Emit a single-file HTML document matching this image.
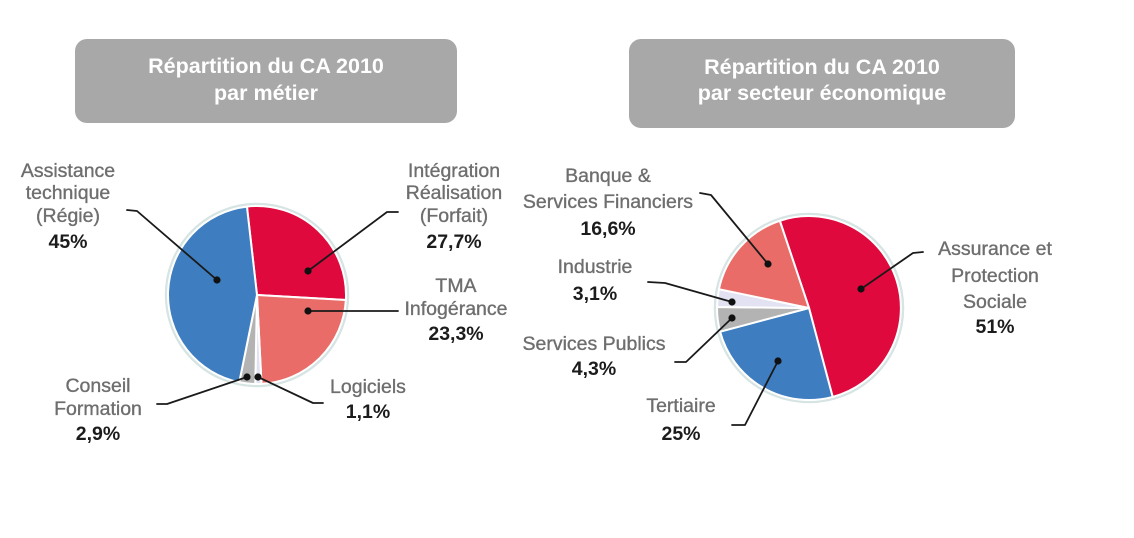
<!DOCTYPE html>
<html>
<head>
<meta charset="utf-8">
<style>
  html, body { margin:0; padding:0; background:#ffffff; }
  body { width:1134px; height:538px; overflow:hidden; }
  svg { display:block; }
  .t { font-family:"Liberation Sans", Arial, sans-serif; font-weight:bold; font-size:21.5px; fill:#ffffff; text-anchor:middle; }
  .l { font-family:"Liberation Sans", Arial, sans-serif; font-size:19.5px; fill:#6e6e6e; stroke:#6e6e6e; stroke-width:0.35px; text-anchor:middle; }
  .p { font-family:"Liberation Sans", Arial, sans-serif; font-weight:bold; font-size:19.5px; fill:#1c1c1c; text-anchor:middle; }
  .ln { fill:none; stroke:#1a1a1a; stroke-width:1.8; stroke-linejoin:round; stroke-linecap:round; }
</style>
</head>
<body>
<svg width="1134" height="538" viewBox="0 0 1134 538" xmlns="http://www.w3.org/2000/svg">
  <!-- Title boxes -->
  <rect x="75" y="39" width="382" height="84" rx="12" ry="12" fill="#a8a8a8"/>
  <text class="t" x="266" y="73">Répartition du CA 2010</text>
  <text class="t" x="266" y="100">par métier</text>

  <rect x="629" y="39" width="386" height="89" rx="12" ry="12" fill="#a8a8a8"/>
  <text class="t" x="822" y="74">Répartition du CA 2010</text>
  <text class="t" x="822" y="100">par secteur économique</text>

  <!-- Left pie -->
  <circle cx="257" cy="295" r="91" fill="none" stroke="#d6e4e3" stroke-width="2.5"/>
  <g stroke="#ffffff" stroke-width="2" stroke-linejoin="round">
    <path d="M257,295 L246.93,206.57 A89,89 0 0,1 345.86,299.97 Z" fill="#e0093d"/>
    <path d="M257,295 L345.86,299.97 A89,89 0 0,1 261.50,383.89 Z" fill="#e96c68"/>
    <path d="M257,295 L261.50,383.89 A89,89 0 0,1 255.29,383.98 Z" fill="#e2e2f2"/>
    <path d="M257,295 L255.29,383.98 A89,89 0 0,1 239.26,382.21 Z" fill="#b3b3b3"/>
    <path d="M257,295 L239.26,382.21 A89,89 0 0,1 246.93,206.57 Z" fill="#3e7dc0"/>
  </g>

  <!-- Left leader lines -->
  <polyline class="ln" points="127,210 137,211 217,280"/>
  <polyline class="ln" points="398,212 387,212 308,271"/>
  <polyline class="ln" points="308,311 398,311"/>
  <polyline class="ln" points="157,404 167,404 247,377"/>
  <polyline class="ln" points="258,377 313,403 323,403"/>
  <g fill="#111111">
    <circle cx="217" cy="280" r="3.6"/>
    <circle cx="308" cy="271" r="3.6"/>
    <circle cx="308" cy="311" r="3.6"/>
    <circle cx="247" cy="377" r="3.6"/>
    <circle cx="258" cy="377" r="3.6"/>
  </g>

  <!-- Left labels -->
  <text class="l" x="68" y="177">Assistance</text>
  <text class="l" x="68" y="199">technique</text>
  <text class="l" x="68" y="222">(Régie)</text>
  <text class="p" x="68" y="248">45%</text>

  <text class="l" x="454" y="177">Intégration</text>
  <text class="l" x="454" y="199">Réalisation</text>
  <text class="l" x="454" y="222">(Forfait)</text>
  <text class="p" x="454" y="248">27,7%</text>

  <text class="l" x="456" y="292">TMA</text>
  <text class="l" x="456" y="315">Infogérance</text>
  <text class="p" x="456" y="340">23,3%</text>

  <text class="l" x="98" y="392">Conseil</text>
  <text class="l" x="98" y="415">Formation</text>
  <text class="p" x="98" y="440">2,9%</text>

  <text class="l" x="368" y="393">Logiciels</text>
  <text class="p" x="368" y="418">1,1%</text>

  <!-- Right pie -->
  <circle cx="809" cy="308" r="94" fill="none" stroke="#d6e4e3" stroke-width="2.5"/>
  <g stroke="#ffffff" stroke-width="2" stroke-linejoin="round">
    <path d="M809,308 L779.81,220.75 A92,92 0 1,1 832.66,396.91 Z" fill="#e0093d"/>
    <path d="M809,308 L832.66,396.91 A92,92 0 0,1 720.09,331.66 Z" fill="#3e7dc0"/>
    <path d="M809,308 L720.09,331.66 A92,92 0 0,1 717.00,307.04 Z" fill="#b3b3b3"/>
    <path d="M809,308 L717.00,307.04 A92,92 0 0,1 718.94,289.19 Z" fill="#e2e2f2"/>
    <path d="M809,308 L718.94,289.19 A92,92 0 0,1 779.81,220.75 Z" fill="#e96c68"/>
  </g>

  <!-- Right leader lines -->
  <polyline class="ln" points="700,193 711,195 768,264"/>
  <polyline class="ln" points="648,282 665,283 732,302"/>
  <polyline class="ln" points="675,362 686,362 732,318"/>
  <polyline class="ln" points="732,425 745,425 778,361"/>
  <polyline class="ln" points="923,252 913,253 861,289"/>
  <g fill="#111111">
    <circle cx="768" cy="264" r="3.6"/>
    <circle cx="861" cy="289" r="3.6"/>
    <circle cx="732" cy="302" r="3.6"/>
    <circle cx="732" cy="318" r="3.6"/>
    <circle cx="778" cy="361" r="3.6"/>
  </g>

  <!-- Right labels -->
  <text class="l" x="608" y="182">Banque &amp;</text>
  <text class="l" x="608" y="208">Services Financiers</text>
  <text class="p" x="608" y="235">16,6%</text>

  <text class="l" x="595" y="273">Industrie</text>
  <text class="p" x="595" y="300">3,1%</text>

  <text class="l" x="594" y="350">Services Publics</text>
  <text class="p" x="594" y="375">4,3%</text>

  <text class="l" x="681" y="412">Tertiaire</text>
  <text class="p" x="681" y="440">25%</text>

  <text class="l" x="995" y="255">Assurance et</text>
  <text class="l" x="995" y="282">Protection</text>
  <text class="l" x="995" y="308">Sociale</text>
  <text class="p" x="995" y="333">51%</text>
</svg>
</body>
</html>
